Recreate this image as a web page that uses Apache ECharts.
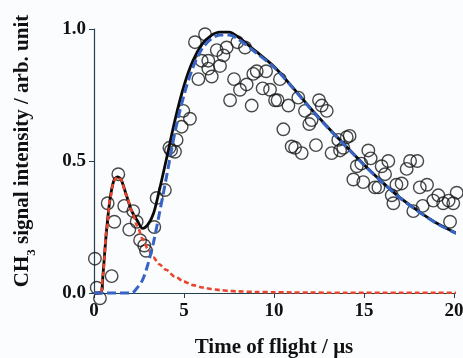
<!DOCTYPE html>
<html>
<head>
<meta charset="utf-8">
<script src="https://cdn.jsdelivr.net/npm/echarts@6/dist/echarts.min.js"></script>
<style>
  html, body { margin: 0; padding: 0; background: #fbfcfe; }
  #chart { width: 463px; height: 358px; }
</style>
</head>
<body>
<div id="chart"></div>
<script>
// measured points (time of flight in µs, normalised CH3 signal)
const tofPoints = [0.05, 0.15, 0.33, 0.98, 0.76, 1.13, 1.35, 1.68, 2.18, 1.96, 2.37, 2.56, 2.79, 2.89, 3.35, 3.48, 3.94,
  4.28, 4.19, 4.5, 4.59, 4.87, 4.96, 5.33, 5.61, 6.17, 5.8, 5.98, 6.35, 6.35, 6.54, 6.82, 7.0, 7.19, 7.37, 7.56, 7.78,
  7.96, 8.11, 8.39, 8.48, 8.76, 8.85, 9.04, 9.37, 9.56, 9.78, 10.06, 10.2, 10.33, 10.52, 10.8, 10.98, 11.17, 11.35,
  11.54, 11.72, 11.96, 12.09, 12.33, 12.5, 12.65, 12.93, 13.2, 13.57, 13.67, 13.85, 14.04, 14.2, 14.41, 14.6, 14.85,
  14.96, 15.24, 15.37, 15.61, 15.8, 15.98, 16.17, 16.35, 16.54, 16.63, 16.8, 17.09, 17.37, 17.56, 17.74, 17.96, 18.1,
  18.26, 18.5, 18.85, 19.13, 19.4, 19.7, 19.78, 19.96, 20.15];
const signalPoints = [0.13, 0.02, -0.02, 0.064, 0.34, 0.27, 0.45, 0.33, 0.31, 0.24, 0.27, 0.2, 0.18, 0.16, 0.25, 0.36, 0.39,
  0.54, 0.55, 0.535, 0.58, 0.63, 0.69, 0.66, 0.95, 0.98, 0.81, 0.88, 0.88, 0.85, 0.82, 0.92, 0.86, 0.9, 0.93, 0.73, 0.81,
  0.95, 0.77, 0.93, 0.79, 0.71, 0.83, 0.84, 0.775, 0.84, 0.77, 0.73, 0.73, 0.81, 0.62, 0.71, 0.555, 0.55, 0.74,
  0.53, 0.69, 0.64, 0.655, 0.56, 0.73, 0.71, 0.69, 0.53, 0.58, 0.54, 0.55, 0.59, 0.595, 0.43, 0.48, 0.49,
  0.42, 0.54, 0.51, 0.4, 0.4, 0.48, 0.45, 0.5, 0.37, 0.34, 0.41, 0.415, 0.47, 0.5, 0.31, 0.5, 0.4,
  0.33, 0.41, 0.35, 0.37, 0.34, 0.35, 0.27, 0.34, 0.38];

// fitted curves
const fitT = [0, 0.3, 0.4, 0.5, 0.7, 0.9, 1.1, 1.3, 1.5, 1.8, 2.1, 2.4, 2.7, 3.0, 3.3, 3.6, 4.0, 4.5, 5, 5.5, 6, 6.5,
  7, 7.5, 8, 9, 10, 11, 12, 13, 14, 15, 16, 17, 18, 19, 20, 20.2];
const fastFit = [0, 0, 0, 0.07, 0.24, 0.36, 0.425, 0.44, 0.43, 0.37, 0.31, 0.255, 0.205, 0.165, 0.135, 0.11, 0.088,
  0.062, 0.043, 0.03, 0.021, 0.015, 0.011, 0.008, 0.006, 0.004, 0.003, 0.002, 0.002, 0.001, 0.001, 0.001, 0.001,
  0.001, 0.001, 0.001, 0.001, 0.001];
const slowFit = [0, 0, 0, 0, 0, 0, 0, 0, 0, 0, 0, 0.02, 0.05, 0.11, 0.19, 0.29, 0.43, 0.61, 0.75, 0.855, 0.925, 0.962,
  0.977, 0.977, 0.962, 0.91, 0.855, 0.78, 0.7, 0.625, 0.555, 0.485, 0.42, 0.36, 0.31, 0.265, 0.23, 0.225];
const totalFit = [0, 0, 0, 0.07, 0.24, 0.36, 0.425, 0.44, 0.43, 0.37, 0.31, 0.275, 0.245, 0.26, 0.3, 0.38, 0.5, 0.655,
  0.785, 0.88, 0.942, 0.975, 0.988, 0.988, 0.97, 0.915, 0.858, 0.782, 0.702, 0.627, 0.556, 0.486, 0.421, 0.361, 0.311,
  0.266, 0.231, 0.226];

const xTicks = [0, 5, 10, 15, 20];
const yTicks = ['0.0', '0.5', '1.0'];

const serif = 'Liberation Serif';
const axisColor = '#24404e';

const pair = (xs, ys) => xs.map((x, i) => [x, ys[i]]);

const chart = echarts.init(document.getElementById('chart'));
chart.setOption({
  backgroundColor: '#fbfcfe',
  animation: false,
  grid: { left: 94, right: 9, top: 29, bottom: 65, outerBoundsMode: 'none', containLabel: false },
  xAxis: {
    type: 'value',
    min: xTicks[0],
    max: xTicks[xTicks.length - 1],
    interval: 5,
    name: 'Time of flight / μs',
    nameLocation: 'middle',
    nameGap: 44,
    nameTextStyle: { fontFamily: serif, fontWeight: 'bold', fontSize: 21, color: '#111' },
    axisLine: { lineStyle: { color: axisColor, width: 1.2 } },
    axisTick: { inside: false, length: 5, lineStyle: { color: axisColor } },
    axisLabel: { fontFamily: serif, fontWeight: 'bold', fontSize: 19, color: '#111', margin: 9 },
    splitLine: { show: false }
  },
  yAxis: {
    type: 'value',
    min: 0,
    max: 1,
    interval: 0.5,
    name: '{a|CH}{b|3}{a| signal intensity / arb. unit}',
    nameLocation: 'middle',
    nameRotate: 90,
    nameGap: 56,
    nameTextStyle: {
      padding: [0, 0, 0, 20],
      rich: {
        a: { fontFamily: serif, fontWeight: 'bold', fontSize: 21, color: '#111', lineHeight: 26, verticalAlign: 'top' },
        b: { fontFamily: serif, fontWeight: 'bold', fontSize: 13, color: '#111', lineHeight: 10, verticalAlign: 'bottom' }
      }
    },
    axisLine: { show: true, lineStyle: { color: axisColor, width: 1.2 } },
    axisTick: { show: true, inside: false, length: 5, lineStyle: { color: axisColor } },
    axisLabel: {
      fontFamily: serif, fontWeight: 'bold', fontSize: 19, color: '#111', margin: 8,
      formatter: (v) => yTicks.find(t => Math.abs(parseFloat(t) - v) < 1e-6) || ''
    },
    splitLine: { show: false }
  },
  series: [
    {
      type: 'scatter',
      data: pair(tofPoints, signalPoints),
      symbol: 'circle',
      symbolSize: 12.5,
      clip: false,
      itemStyle: { color: 'rgba(255,255,255,0)', borderColor: '#1a1a1a', borderWidth: 1.4 },
      z: 2
    },
    {
      type: 'line',
      data: pair(fitT, totalFit),
      smooth: 0.3,
      showSymbol: false,
      clip: false,
      lineStyle: { color: '#0a0a0a', width: 2.8 },
      z: 3
    },
    {
      type: 'line',
      data: pair(fitT, fastFit),
      smooth: 0.3,
      smoothMonotone: 'x',
      showSymbol: false,
      clip: false,
      lineStyle: { color: '#e8462c', width: 2.6, type: [5, 3] },
      z: 4
    },
    {
      type: 'line',
      data: pair(fitT, slowFit),
      smooth: 0.3,
      showSymbol: false,
      clip: false,
      lineStyle: { color: '#3763c4', width: 3, type: [9, 4] },
      z: 5
    }
  ]
});
</script>
</body>
</html>
